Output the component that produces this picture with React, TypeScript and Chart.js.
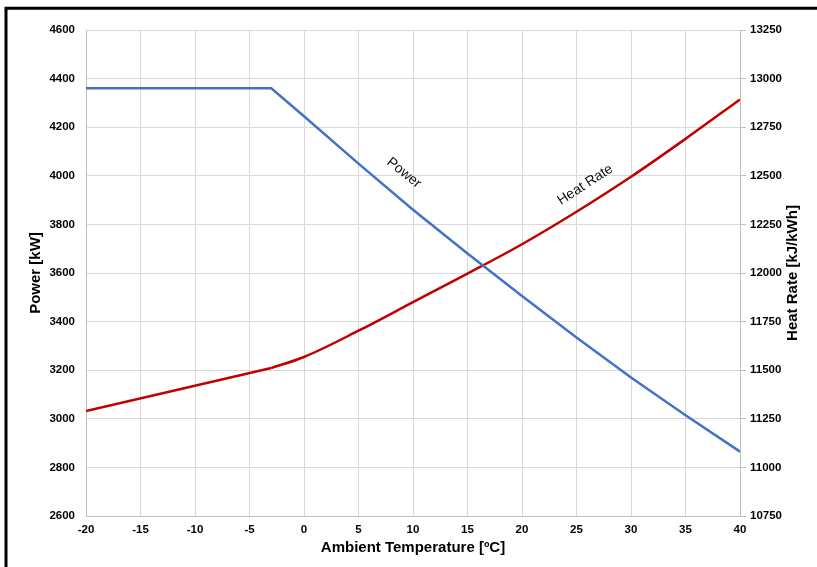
import React, { useEffect, useRef } from "react";
import { Chart, registerables } from "chart.js";

Chart.register(...registerables);

const powerTemps = [-20, -3, 0, 5, 10, 15, 20, 25, 30, 35, 40];
const powerValues = [4360, 4360, 4245, 4050, 3860, 3680, 3505, 3335, 3170, 3015, 2865];

// heat rate: straight section below the -3 ºC break point, curved above it
const heatTempsLow = [-20, -3];
const heatValuesLow = [11290, 11511];
const heatTempsHigh = [-3, 0, 5, 10, 15, 20, 25, 30, 35, 40];
const heatValuesHigh = [11511, 11568, 11703, 11850, 11997, 12148, 12315, 12495, 12690, 12893];

const xTicks = { min: -20, max: 40, step: 5 };
const powerTicks = { min: 2600, max: 4600, step: 200 };
const heatTicks = { min: 10750, max: 13250, step: 250 };

const FONT = "'Liberation Sans', Arial, sans-serif";

const decorPlugin = {
  id: "decor",
  beforeDraw(chart: any) {
    const { ctx, width, height } = chart;
    ctx.save();
    ctx.fillStyle = "#ffffff";
    ctx.fillRect(0, 0, width, height);
    ctx.restore();
  },
  afterDraw(chart: any) {
    const { ctx, height, width } = chart;
    const xs = chart.scales.x;
    const yp = chart.scales.y;
    const yh = chart.scales.y1;
    ctx.save();
    ctx.strokeStyle = "#000000";
    ctx.lineWidth = 3;
    ctx.beginPath();
    ctx.moveTo(6, height + 2);
    ctx.lineTo(6, 8.3);
    ctx.lineTo(width + 2, 8.3);
    ctx.stroke();

    ctx.fillStyle = "#000000";
    ctx.font = `bold 15px ${FONT}`;
    ctx.textAlign = "center";
    ctx.textBaseline = "middle";
    ctx.save();
    ctx.translate(793, (chart.chartArea.top + chart.chartArea.bottom) / 2);
    ctx.rotate(-Math.PI / 2);
    ctx.fillText("Heat Rate [kJ/kWh]", 0, 0);
    ctx.restore();

    ctx.font = `14px ${FONT}`;
    ctx.fillStyle = "#111111";
    ctx.save();
    ctx.translate(xs.getPixelForValue(9.17), yp.getPixelForValue(4012));
    ctx.rotate((39 * Math.PI) / 180);
    ctx.fillText("Power", 0, 0);
    ctx.restore();

    ctx.save();
    ctx.translate(xs.getPixelForValue(25.8), yh.getPixelForValue(12453));
    ctx.rotate((-33 * Math.PI) / 180);
    ctx.fillText("Heat Rate", 0, 0);
    ctx.restore();

    ctx.restore();
  },
};

export default function App() {
  const ref = useRef<HTMLCanvasElement | null>(null);

  useEffect(() => {
    if (!ref.current) return;
    const tickFont = { family: FONT, size: 11.5, weight: "bold" as const };
    const plain = (v: any) => String(v);
    const chart = new Chart(ref.current, {
      type: "line",
      data: {
        datasets: [
          {
            label: "Power",
            data: powerTemps.map((t, i) => ({ x: t, y: powerValues[i] })),
            borderColor: "#4472C4",
            borderWidth: 2.5,
            pointRadius: 0,
            tension: 0,
            yAxisID: "y",
          },
          {
            label: "Heat Rate",
            data: heatTempsLow.map((t, i) => ({ x: t, y: heatValuesLow[i] })),
            borderColor: "#C00000",
            borderWidth: 2.5,
            pointRadius: 0,
            tension: 0,
            yAxisID: "y1",
          },
          {
            label: "Heat Rate ",
            data: heatTempsHigh.map((t, i) => ({ x: t, y: heatValuesHigh[i] })),
            borderColor: "#C00000",
            borderWidth: 2.5,
            pointRadius: 0,
            cubicInterpolationMode: "monotone",
            yAxisID: "y1",
          },
        ],
      },
      options: {
        responsive: false,
        animation: false,
        layout: { padding: { left: 23, top: 30, right: 0, bottom: 0 } },
        plugins: {
          legend: { display: false },
          tooltip: { enabled: false },
        },
        scales: {
          x: {
            type: "linear",
            min: xTicks.min,
            max: xTicks.max,
            ticks: { stepSize: xTicks.step, font: tickFont, color: "#000", padding: 7, maxRotation: 0, callback: plain },
            grid: { color: "#d9d9d9", drawTicks: false },
            border: { color: "#bfbfbf" },
            title: {
              display: true,
              text: "Ambient Temperature [ºC]",
              font: { family: FONT, size: 15, weight: "bold" },
              color: "#000",
              padding: { top: 0, bottom: 10 },
            },
            afterFit(scale: any) {
              scale.height = 51;
            },
          },
          y: {
            type: "linear",
            position: "left",
            min: powerTicks.min,
            max: powerTicks.max,
            ticks: { stepSize: powerTicks.step, font: tickFont, color: "#000", padding: 11, callback: plain },
            grid: { color: "#d9d9d9", drawTicks: false },
            border: { color: "#bfbfbf" },
            title: {
              display: true,
              text: "Power [kW]",
              font: { family: FONT, size: 15, weight: "bold" },
              color: "#000",
              padding: { top: 4, bottom: 4 },
            },
            afterFit(scale: any) {
              scale.width = 63;
            },
          },
          y1: {
            type: "linear",
            position: "right",
            min: heatTicks.min,
            max: heatTicks.max,
            ticks: { stepSize: heatTicks.step, font: tickFont, color: "#000", padding: 4, callback: plain },
            grid: { color: "#bfbfbf", drawOnChartArea: false, drawTicks: true, tickLength: 6 },
            border: { color: "#bfbfbf" },
            afterFit(scale: any) {
              scale.width = 77;
            },
          },
        },
      },
      plugins: [decorPlugin],
    });
    return () => chart.destroy();
  }, []);

  return (
    <div style={{ position: "fixed", left: 0, top: 0, width: 817, height: 567, background: "#fff" }}>
      <canvas ref={ref} width={817} height={567} style={{ width: 817, height: 567, display: "block" }} />
    </div>
  );
}
